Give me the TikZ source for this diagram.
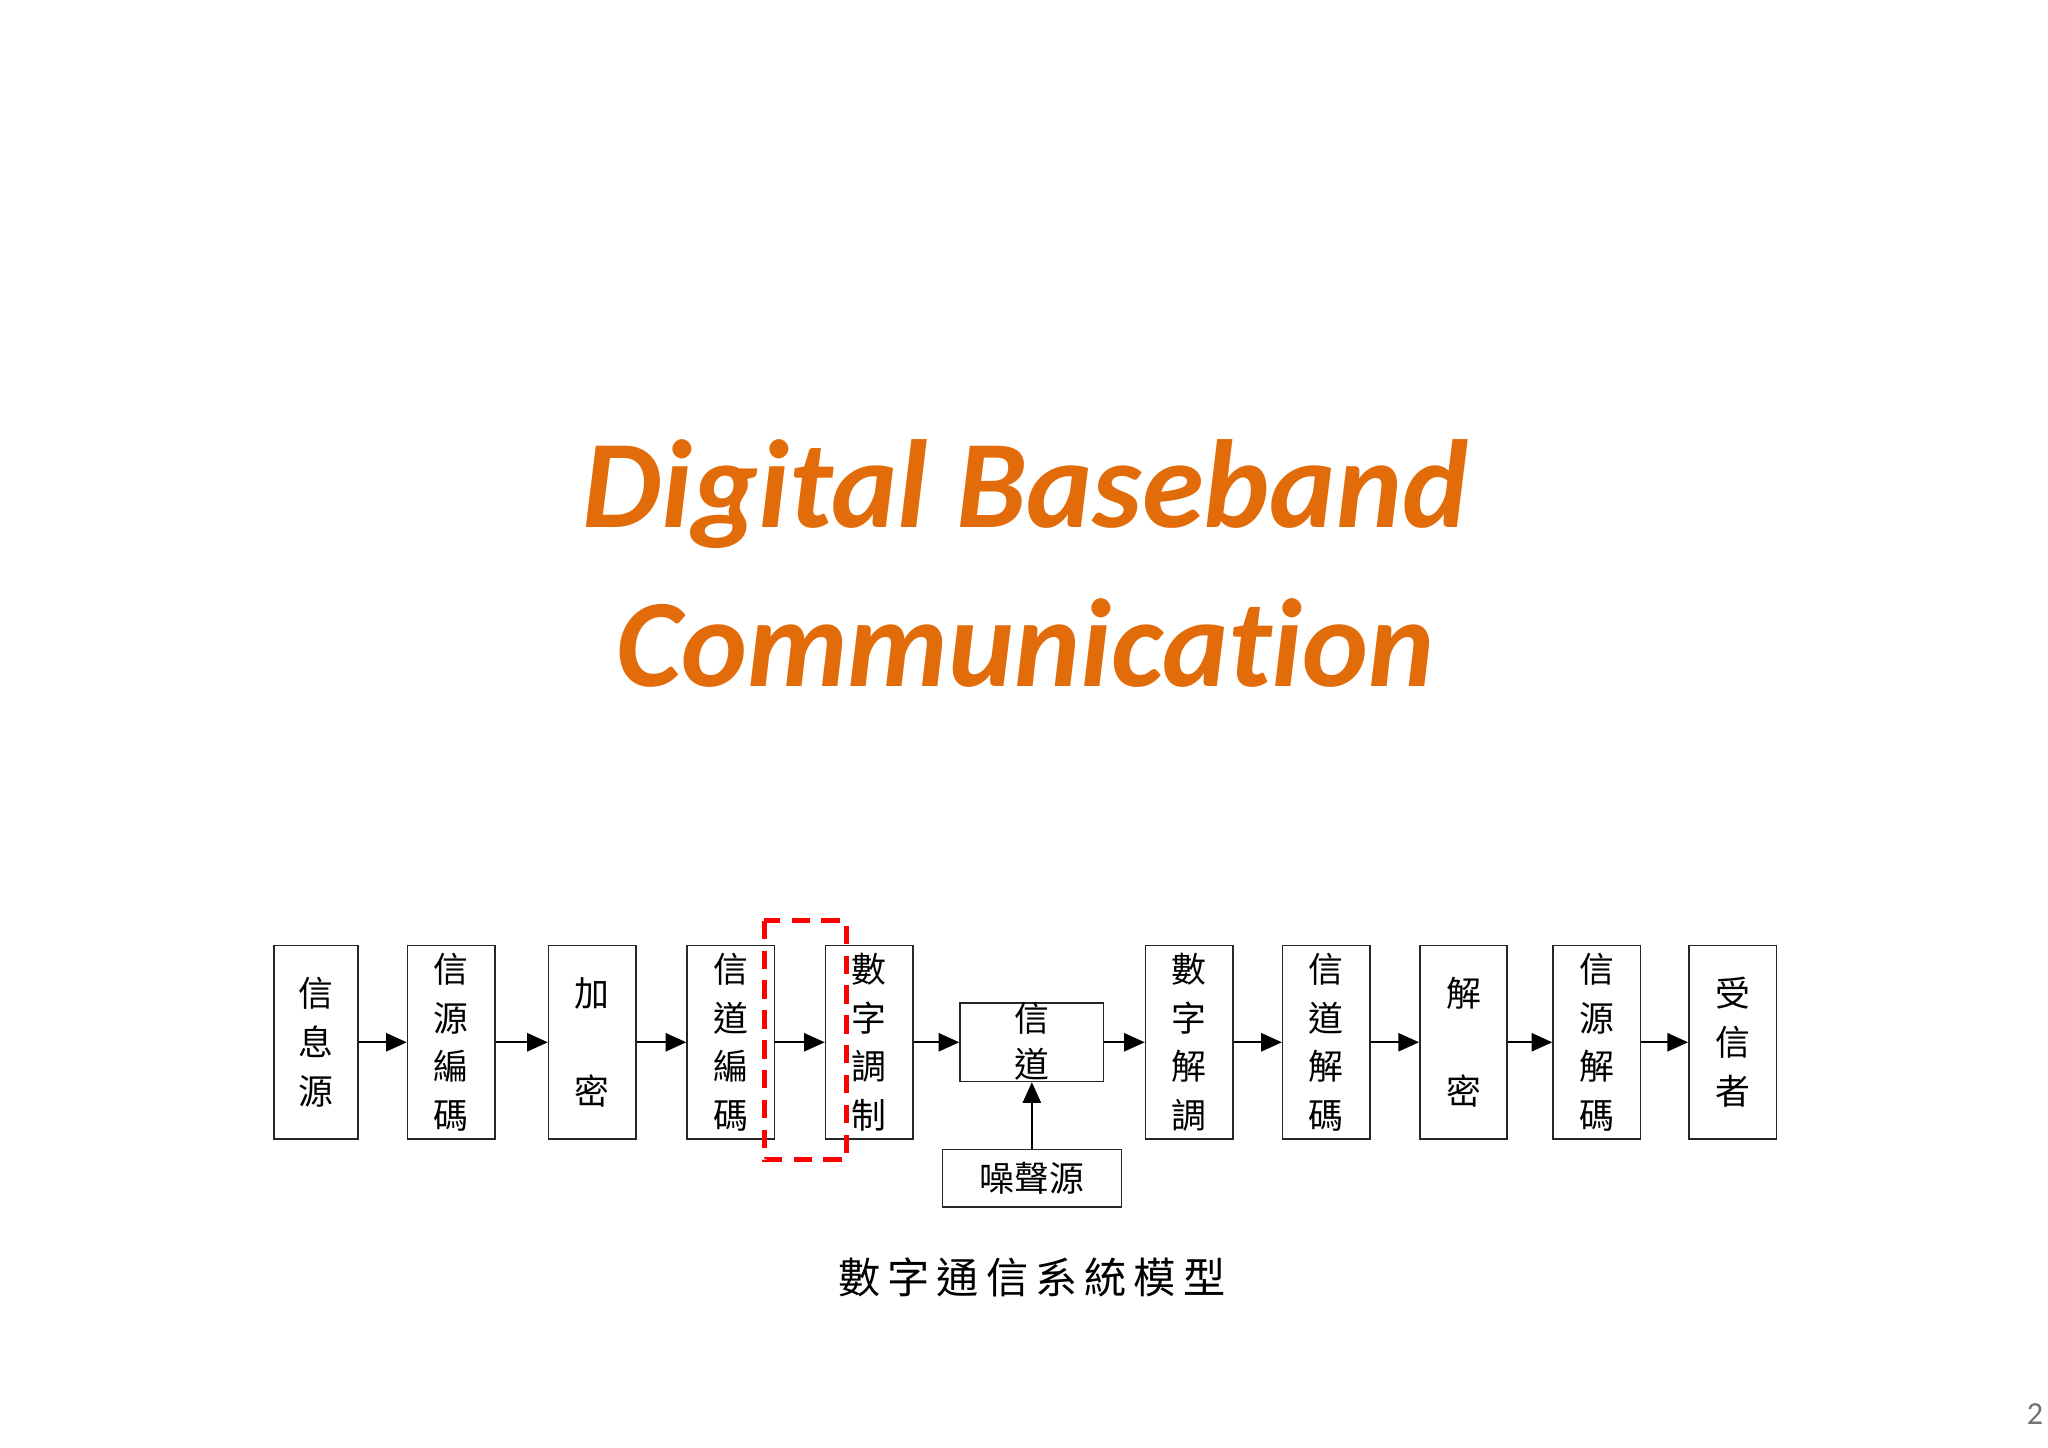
\documentclass[tikz,border=0pt]{standalone}
\usepackage{fontspec}
\setmainfont{Carlito}[Ligatures={NoCommon,NoRare}]
\newfontfamily\cjk{Noto Sans CJK TC}
\usetikzlibrary{arrows.meta}
\definecolor{ttl}{RGB}{226,108,10}
\tikzset{
  blk/.style={draw=black!85, line width=0.35pt, inner sep=0pt, align=center,
     font=\cjk\fontsize{7.6}{10.6}\selectfont},
  flow/.style={-{Triangle[length=4.5pt,width=4pt]}, line width=0.35pt},
}
\newcommand{\mybox}[5]{\node[blk, minimum width={(#3-#2)*0.1mm}, minimum height={(872-724)*0.1mm}] (#1) at ({(#2+#3)/2}, 798) {#4#5};}
\begin{document}
\begin{tikzpicture}[x=0.1mm, y=-0.1mm]
\useasboundingbox[fill=white] (0,0) rectangle (1568,1108);
\node[font=\bfseries\itshape\fontsize{27.3}{33}\selectfont, text=ttl] (t1) at (785,378) {Digital Baseband};
\node[font=\bfseries\itshape\fontsize{27.3}{33}\selectfont, text=ttl] (t2) at (785,492) {Communication};
\mybox{b1}{210}{274}{信\\息\\源}{}
\mybox{b2}{312}{379}{信\\源\\編\\碼}{}
\mybox{b3}{420}{487}{加\\[10.6pt]密}{}
\mybox{b4}{526}{593}{信\\道\\編\\碼}{}
\mybox{b5}{632}{699}{數\\字\\調\\制}{}
\node[blk, minimum width={110*0.1mm}, minimum height={60*0.1mm}] (ch) at (790,798) {};
\node[font=\cjk\fontsize{7.6}{10}\selectfont, align=center] (cht) at (790,797) {信\\道};
\mybox{b6}{877}{944}{數\\字\\解\\調}{}
\mybox{b7}{982}{1049}{信\\道\\解\\碼}{}
\mybox{b8}{1087}{1154}{解\\[10.6pt]密}{}
\mybox{b9}{1189}{1256}{信\\源\\解\\碼}{}
\mybox{b10}{1293}{1360}{受\\信\\者}{}
\node[blk, minimum width={137*0.1mm}, minimum height={44*0.1mm}] (ns) at (790,902) {噪聲源};
\foreach \a/\b in {b1/b2,b2/b3,b3/b4,b4/b5,b5/ch,ch/b6,b6/b7,b7/b8,b8/b9,b9/b10}
  \draw[flow] (\a.east) -- (\b.west);
\draw[flow] (ns.north) -- (ch.south);
\draw[red, dashed, dash pattern=on 4pt off 2.5pt, line width=1.1pt] (585,705) rectangle (648,888);
\node[font=\cjk\fontsize{9.2}{11}\selectfont] (cap) at (790,978) {數\,字\,通\,信\,系\,統\,模\,型};
\node[font=\fontsize{7}{8}\selectfont, text=black!55] (pg) at (1558,1083) {2};
\end{tikzpicture}
\end{document}
